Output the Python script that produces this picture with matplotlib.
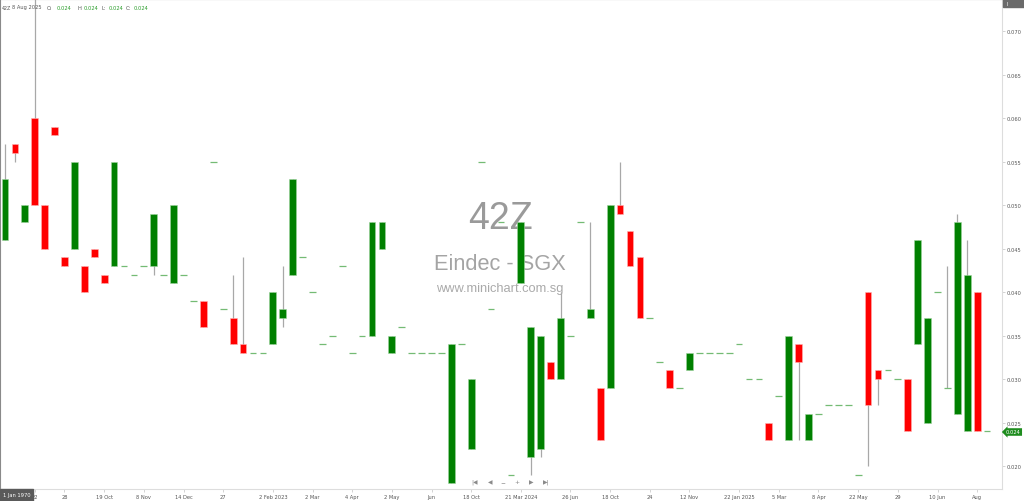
import matplotlib
matplotlib.use('Agg')
import matplotlib.pyplot as plt
from matplotlib.patches import Rectangle
import numpy as np

W, H = 1024, 502

# OHLC per bar (one value each)
opens  = [0.046, 0.057, 0.048, 0.060, 0.050, 0.059, 0.044, 0.045, 0.043, 0.045,
          0.042, 0.043, 0.043, 0.042, 0.043, 0.043, 0.042, 0.041, 0.042, 0.039,
          0.039, 0.055, 0.038, 0.037, 0.034, 0.033, 0.033, 0.034, 0.037, 0.042,
          0.044, 0.040, 0.034, 0.035, 0.043, 0.033, 0.035, 0.035, 0.045, 0.033,
          0.036, 0.033, 0.033, 0.033, 0.033, 0.018, 0.034, 0.022, 0.055, 0.038,
          0.048, 0.019, 0.041, 0.021, 0.022, 0.032, 0.030, 0.035, 0.048, 0.037,
          0.029, 0.029, 0.050, 0.047, 0.044, 0.037, 0.032, 0.031, 0.029, 0.031,
          0.033, 0.033, 0.033, 0.033, 0.034, 0.030, 0.030, 0.025, 0.028, 0.023,
          0.034, 0.023, 0.026, 0.027, 0.027, 0.027, 0.019, 0.040, 0.031, 0.031,
          0.030, 0.030, 0.034, 0.025, 0.040, 0.029, 0.026, 0.024, 0.040, 0.024]
highs  = [0.057, 0.057, 0.050, 0.075, 0.050, 0.059, 0.044, 0.055, 0.043, 0.045,
          0.042, 0.055, 0.043, 0.042, 0.043, 0.049, 0.042, 0.050, 0.042, 0.039,
          0.039, 0.055, 0.038, 0.042, 0.044, 0.033, 0.033, 0.040, 0.043, 0.053,
          0.044, 0.040, 0.034, 0.035, 0.043, 0.033, 0.035, 0.048, 0.048, 0.035,
          0.036, 0.033, 0.033, 0.033, 0.033, 0.034, 0.034, 0.030, 0.055, 0.038,
          0.048, 0.019, 0.048, 0.036, 0.035, 0.032, 0.040, 0.035, 0.048, 0.048,
          0.029, 0.050, 0.055, 0.047, 0.044, 0.037, 0.032, 0.031, 0.029, 0.033,
          0.033, 0.033, 0.033, 0.033, 0.034, 0.030, 0.030, 0.025, 0.028, 0.035,
          0.034, 0.026, 0.026, 0.027, 0.027, 0.027, 0.019, 0.040, 0.031, 0.031,
          0.030, 0.030, 0.046, 0.037, 0.040, 0.043, 0.049, 0.046, 0.040, 0.024]
lows   = [0.046, 0.055, 0.048, 0.050, 0.045, 0.058, 0.043, 0.045, 0.040, 0.044,
          0.041, 0.043, 0.043, 0.042, 0.043, 0.042, 0.042, 0.041, 0.042, 0.039,
          0.036, 0.055, 0.038, 0.034, 0.033, 0.033, 0.033, 0.034, 0.036, 0.042,
          0.044, 0.040, 0.034, 0.035, 0.043, 0.033, 0.035, 0.035, 0.045, 0.033,
          0.036, 0.033, 0.033, 0.033, 0.033, 0.018, 0.034, 0.022, 0.055, 0.038,
          0.048, 0.019, 0.041, 0.019, 0.021, 0.030, 0.030, 0.035, 0.048, 0.037,
          0.023, 0.029, 0.049, 0.043, 0.037, 0.037, 0.032, 0.029, 0.029, 0.031,
          0.033, 0.033, 0.033, 0.033, 0.034, 0.030, 0.030, 0.023, 0.028, 0.023,
          0.023, 0.023, 0.026, 0.027, 0.027, 0.027, 0.019, 0.020, 0.027, 0.031,
          0.030, 0.024, 0.034, 0.025, 0.040, 0.029, 0.026, 0.024, 0.024, 0.024]
closes = [0.053, 0.056, 0.050, 0.050, 0.045, 0.058, 0.043, 0.055, 0.040, 0.044,
          0.041, 0.055, 0.043, 0.042, 0.043, 0.049, 0.042, 0.050, 0.042, 0.039,
          0.036, 0.055, 0.038, 0.034, 0.033, 0.033, 0.033, 0.040, 0.038, 0.053,
          0.044, 0.040, 0.034, 0.035, 0.043, 0.033, 0.035, 0.048, 0.048, 0.035,
          0.036, 0.033, 0.033, 0.033, 0.033, 0.034, 0.034, 0.030, 0.055, 0.038,
          0.048, 0.019, 0.048, 0.036, 0.035, 0.030, 0.037, 0.035, 0.048, 0.038,
          0.023, 0.050, 0.049, 0.043, 0.037, 0.037, 0.032, 0.029, 0.029, 0.033,
          0.033, 0.033, 0.033, 0.033, 0.034, 0.030, 0.030, 0.023, 0.028, 0.035,
          0.032, 0.026, 0.026, 0.027, 0.027, 0.027, 0.019, 0.027, 0.030, 0.031,
          0.030, 0.024, 0.046, 0.037, 0.040, 0.029, 0.048, 0.042, 0.024, 0.024]

# date labels: bar index -> label
date_idx    = [3, 6, 10, 14, 18, 22, 27, 31, 35, 39, 43, 47, 52, 57, 61, 65,
               69, 74, 78, 82, 86, 90, 94, 98]
date_labels = ['22', '28', '19 Oct', '8 Nov', '14 Dec', '27', '2 Feb 2023', '2 Mar',
               '4 Apr', '2 May', 'Jun', '18 Oct', '21 Mar 2024', '26 Jun', '18 Oct', '24',
               '12 Nov', '22 Jan 2025', '5 Mar', '8 Apr', '22 May', '29', '10 Jun', 'Aug']
price_ticks = [0.020, 0.025, 0.030, 0.035, 0.040, 0.045, 0.050, 0.055, 0.060, 0.065, 0.070]
last_price = 0.024

GREEN, RED = '#008000', '#ff0000'
FS = 3.7

fig = plt.figure(figsize=(W / 100, H / 100), dpi=100)
ax = fig.add_axes([0, 12 / H, 1002 / W, 490 / H])

x = np.arange(len(opens))
o, h, l, c = map(np.array, (opens, highs, lows, closes))
up = c > o
down = c < o
flat = c == o

# wicks
ax.vlines(x, l, h, color='#a8a8a8', lw=0.9, zorder=2)
# bodies
ax.bar(x[up], (c - o)[up], bottom=o[up], width=0.68, color=GREEN,
       edgecolor='#9fd49f', lw=0.4, zorder=3)
ax.bar(x[down], (o - c)[down], bottom=c[down], width=0.68, color=RED,
       edgecolor='#ffb3b3', lw=0.4, zorder=3)
# no-change bars
ax.hlines(c[flat], x[flat] - 0.34, x[flat] + 0.34, color='#74bb74', lw=0.9, zorder=3)

ax.set_xlim(-0.5, 100.5)
ax.set_ylim(0.07368, 0.01736)
ax.invert_yaxis()

ax.yaxis.tick_right()
ax.set_yticks(price_ticks)
ax.set_yticklabels([f'{v:.3f}' for v in price_ticks])
ax.set_xticks(date_idx)
ax.set_xticklabels(date_labels)
ax.tick_params(axis='both', labelsize=FS, colors='#cccccc', labelcolor='#555555',
               length=2, width=0.6, pad=1.5)

for s in ('top', 'left'):
    ax.spines[s].set_linestyle((0, (1, 1)))
    ax.spines[s].set_color('#8a8a8a')
    ax.spines[s].set_linewidth(0.8)
for s in ('bottom', 'right'):
    ax.spines[s].set_color('#dddddd')
    ax.spines[s].set_linewidth(0.8)

# watermark
wm = dict(ha='center', va='center', family='Liberation Sans', transform=ax.transAxes, zorder=0)
ax.text(500 / 1002, 1 - 219 / 490, '42Z', fontsize=27, color='#9a9a9a', **wm)
ax.text(500 / 1002, 1 - 264 / 490, 'Eindec - SGX', fontsize=15.7, color='#a4a4a4', **wm)
ax.text(500 / 1002, 1 - 289 / 490, 'www.minichart.com.sg', fontsize=9.3, color='#aaaaaa', **wm)

# navigation buttons
for bx, sym in zip([475, 490, 503, 517, 531, 546], ['|◀', '◀', '−', '+', '▶', '▶|']):
    fig.text(bx / W, 1 - 482.5 / H, sym, fontsize=4.2, color='#8a8a8a',
             ha='center', va='center', zorder=5)


def ftext(px, py, s, size=FS, **kw):
    fig.text(px / W, 1 - py / H, s, fontsize=size, va='center', **kw)


# header
ftext(1.5, 8, '42Z', size=3.4, color='#555555')
ftext(12, 8, '8 Aug 2025', color='#555555')
for lx, lab, vx in [(47, 'O:', 57), (77, 'H:', 84), (101, 'L:', 109), (126, 'C:', 134)]:
    ftext(lx, 8, lab, color='#555555')
    ftext(vx, 8, f'{last_price:.3f}', color='#2a9d2a')

# bottom-left date box
fig.add_artist(Rectangle((0, 0), 33 / W, 12 / H, transform=fig.transFigure,
                         color='#5a5a5a', zorder=6))
fig.text(16.5 / W, 1 - 496 / H, '1 Jan 1970', fontsize=FS, color='white',
         ha='center', va='center', zorder=7)

# top-right box
fig.add_artist(Rectangle((1003 / W, 1 - 8 / H), 21 / W, 8 / H, transform=fig.transFigure,
                         color='#6a6a6a', zorder=6))
fig.text(1007 / W, 1 - 4 / H, 'I', fontsize=FS, color='white', ha='center', va='center', zorder=7)

# last price tag
fig.text(1006 / W, 1 - 433 / H, f'{last_price:.3f}', fontsize=FS, color='white',
         ha='left', va='center', zorder=7,
         bbox=dict(boxstyle='larrow,pad=0.25', fc='#1e8c1e', ec='none'))

fig.savefig('out.png', dpi=100)
